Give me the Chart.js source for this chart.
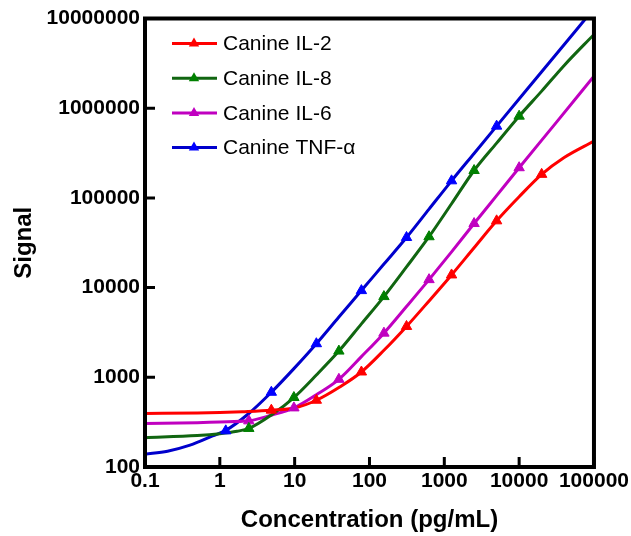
<!DOCTYPE html>
<html>
<head>
<meta charset="utf-8">
<script src="https://cdn.jsdelivr.net/npm/chart.js@4"></script>
<style>
  body { margin: 0; background: #fff; }
  #wrap { width: 631px; height: 536px; position: relative; }
</style>
</head>
<body>
<div id="wrap"><canvas id="assayChart"></canvas></div>
<script>
// series names, legend order
const seriesNames = ['Canine IL-2', 'Canine IL-8', 'Canine IL-6', 'Canine TNF-α'];
const lineColors = ['#ff0000', '#116611', '#c000c0', '#0000cc'];
const markerColors = ['#ff0000', '#008000', '#c000c0', '#0000ff'];

// axis ticks
const xTicks = [0.1, 1, 10, 100, 1000, 10000, 100000];
const xTickLabels = ['0.1', '1', '10', '100', '1000', '10000', '100000'];
const yTicks = [100, 1000, 10000, 100000, 1000000, 10000000];
const yTickLabels = ['100', '1000', '10000', '100000', '1000000', '10000000'];

const il2Conc = [4.88, 19.5, 78, 312.5, 1250, 5000, 20000];
const il2Signal = [430, 555, 1146, 3690, 13840, 55500, 183000];
const il8Conc = [2.44, 9.77, 39, 156, 625, 2500, 10000];
const il8Signal = [269, 595, 1960, 7940, 36900, 202000, 815000];
const il6Conc = [2.44, 9.77, 39, 156, 625, 2500, 10000];
const il6Signal = [327, 456, 950, 3107, 12270, 51800, 217000];
const tnfConc = [1.2, 4.88, 19.5, 78, 312.5, 1250, 5000];
const tnfSignal = [253, 681, 2368, 9260, 36200, 155000, 631000];

// fitted curves
const il2CurveX = [0.1, 0.5, 1, 2, 4.88, 10, 19.5, 40, 78, 156, 312.5, 625, 1250, 2500, 5000, 10000, 20000, 40000, 100000];
const il2CurveY = [395, 400, 405, 414, 430, 455, 555, 780, 1146, 2000, 3690, 7100, 13840, 27800, 55500, 103000, 183000, 282000, 430000];
const il8CurveX = [0.1, 0.5, 1, 1.7, 2.44, 4.88, 9.77, 19.5, 39, 78, 156, 312.5, 625, 1250, 2500, 5000, 10000, 20000, 40000, 100000];
const il8CurveY = [212, 224, 235, 250, 269, 380, 595, 1060, 1960, 3940, 7940, 17000, 36900, 86000, 202000, 408000, 815000, 1550000, 3000000, 6640000];
const il6CurveX = [0.1, 0.5, 1, 2.44, 4.88, 9.77, 19.5, 39, 78, 156, 312.5, 625, 1250, 2500, 5000, 10000, 31623, 100000];
const il6CurveY = [306, 312, 318, 327, 378, 456, 640, 950, 1700, 3107, 6150, 12270, 25000, 51800, 106000, 217000, 700000, 2270000];
const tnfCurveX = [0.1, 0.2, 0.4, 0.8, 1.2, 2.44, 4.88, 9.77, 19.5, 39, 78, 156, 312.5, 625, 1250, 2500, 5000, 20000, 100000];
const tnfCurveY = [139, 150, 175, 222, 256, 395, 681, 1250, 2368, 4700, 9260, 18300, 36200, 75000, 155000, 313000, 631000, 2550000, 12900000];

const markerX = [il2Conc, il8Conc, il6Conc, tnfConc];
const markerY = [il2Signal, il8Signal, il6Signal, tnfSignal];
const curveX = [il2CurveX, il8CurveX, il6CurveX, tnfCurveX];
const curveY = [il2CurveY, il8CurveY, il6CurveY, tnfCurveY];

const FONT = '"Liberation Sans", Arial, Helvetica, sans-serif';

const zip = (xs, ys) => xs.map((x, i) => ({ x: x, y: ys[i] }));

const datasets = [];
seriesNames.forEach((name, i) => {
    datasets.push({
        label: name,
        data: zip(curveX[i], curveY[i]),
        borderColor: lineColors[i],
        borderWidth: 3,
        pointRadius: 0,
        cubicInterpolationMode: 'monotone',
        fill: false,
        order: 1
    });
});
seriesNames.forEach((name, i) => {
    datasets.push({
        label: name + ' points',
        data: zip(markerX[i], markerY[i]),
        showLine: false,
        pointStyle: 'triangle',
        pointRadius: 6,
        borderWidth: 1,
        borderColor: markerColors[i],
        backgroundColor: markerColors[i],
        order: 0
    });
});

// frame, inward ticks and the legend
const framePlugin = {
    id: 'frame',
    afterDatasetsDraw(chart) {
        const { ctx, chartArea: a, scales } = chart;
        ctx.save();
        ctx.strokeStyle = '#000';
        ctx.lineWidth = 3;
        ctx.lineCap = 'butt';
        ctx.beginPath();
        xTicks.forEach(v => {
            const px = scales.x.getPixelForValue(v);
            ctx.moveTo(px, a.bottom);
            ctx.lineTo(px, a.bottom - 10);
        });
        yTicks.forEach(v => {
            const py = scales.y.getPixelForValue(v);
            ctx.moveTo(a.left, py);
            ctx.lineTo(a.left + 10, py);
        });
        ctx.stroke();
        ctx.lineWidth = 4;
        ctx.strokeRect(a.left, a.top, a.right - a.left, a.bottom - a.top);

        // legend: line + triangle + text
        ctx.font = '21px ' + FONT;
        ctx.textBaseline = 'middle';
        ctx.textAlign = 'left';
        seriesNames.forEach((name, i) => {
            const y = 43.5 + i * 34.7;
            ctx.strokeStyle = lineColors[i];
            ctx.lineWidth = 3;
            ctx.beginPath();
            ctx.moveTo(172, y);
            ctx.lineTo(217, y);
            ctx.stroke();
            ctx.fillStyle = markerColors[i];
            ctx.beginPath();
            ctx.moveTo(194, y - 6);
            ctx.lineTo(199.2, y + 3);
            ctx.lineTo(188.8, y + 3);
            ctx.closePath();
            ctx.fill();
            ctx.fillStyle = '#000';
            ctx.fillText(name, 223, y + 1);
        });
        ctx.restore();
    }
};

new Chart(document.getElementById('assayChart'), {
    type: 'line',
    data: { datasets: datasets },
    options: {
        responsive: true,
        maintainAspectRatio: false,
        animation: false,
        devicePixelRatio: 1,
        layout: { padding: { left: 0, right: 36, top: 18.5, bottom: 0 } },
        plugins: {
            legend: { display: false },
            tooltip: { enabled: false }
        },
        scales: {
            x: {
                type: 'logarithmic',
                min: 0.1,
                max: 100000,
                grid: { display: false, drawTicks: false },
                border: { display: false },
                afterBuildTicks: s => { s.ticks = xTicks.map(v => ({ value: v })); },
                afterFit: s => { s.height = 69; },
                ticks: {
                    autoSkip: false,
                    maxRotation: 0,
                    padding: 2,
                    color: '#000',
                    font: { family: FONT, size: 21, weight: 'bold' },
                    callback: (v, i) => xTickLabels[i]
                },
                title: {
                    display: true,
                    text: 'Concentration (pg/mL)',
                    color: '#000',
                    padding: { top: 0, bottom: 1 },
                    font: { family: FONT, size: 24, weight: 'bold' }
                }
            },
            y: {
                type: 'logarithmic',
                min: 100,
                max: 10000000,
                grid: { display: false, drawTicks: false },
                border: { display: false },
                afterBuildTicks: s => { s.ticks = yTicks.map(v => ({ value: v })); },
                afterFit: s => { s.width = 145; },
                ticks: {
                    autoSkip: false,
                    padding: 5,
                    color: '#000',
                    font: { family: FONT, size: 21, weight: 'bold' },
                    callback: (v, i) => yTickLabels[i]
                },
                title: {
                    display: true,
                    text: 'Signal',
                    color: '#000',
                    padding: { top: 10, bottom: 0 },
                    font: { family: FONT, size: 24, weight: 'bold' }
                }
            }
        }
    },
    plugins: [framePlugin]
});
</script>
</body>
</html>
